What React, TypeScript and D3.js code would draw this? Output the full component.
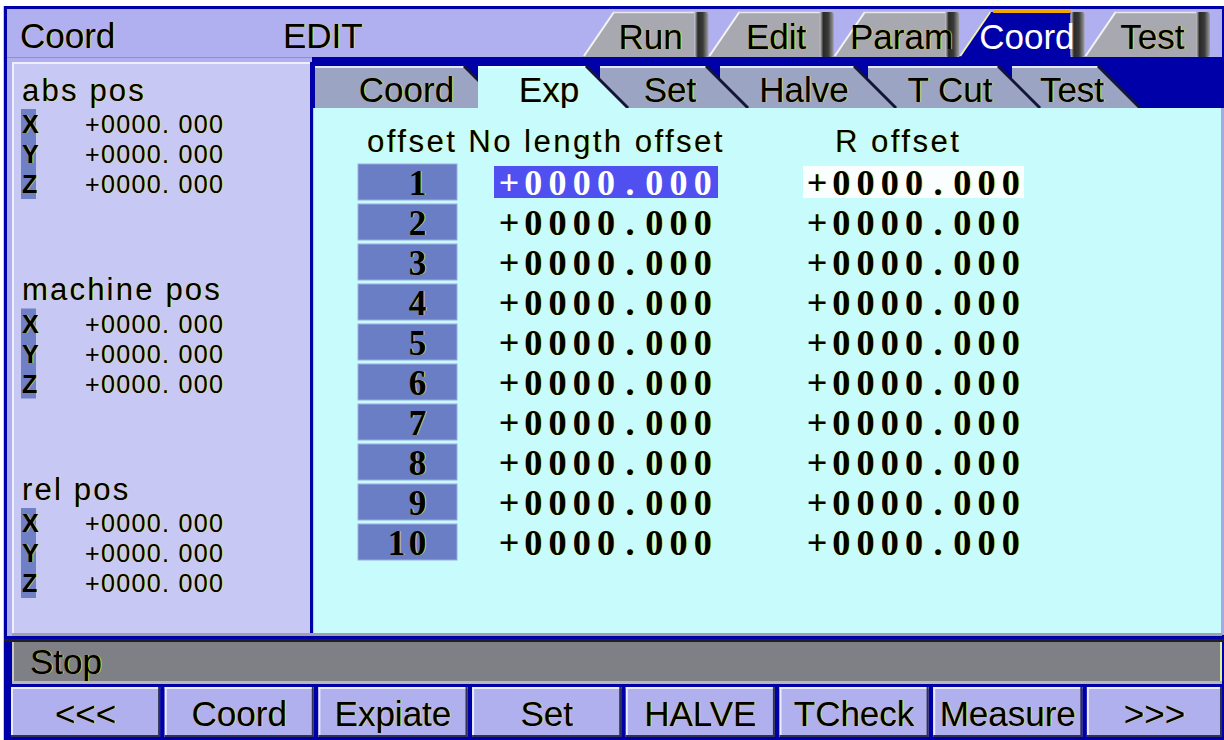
import React from "react";
import * as d3 from "d3";

// screen content
const screenTitle = "Coord";
const modeText = "EDIT";
const topTabs = ["Run", "Edit", "Param", "Coord", "Test"];
const activeTopTab = "Coord";
const subTabs = ["Coord", "Exp", "Set", "Halve", "T Cut", "Test"];
const activeSubTab = "Exp";
const posGroups = ["abs pos", "machine pos", "rel pos"];
const axes = ["X", "Y", "Z"];
const absPos = [0, 0, 0];
const machinePos = [0, 0, 0];
const relPos = [0, 0, 0];
const columnHeaders = ["offset No length offset", "R offset"];
const offsetNos = [1, 2, 3, 4, 5, 6, 7, 8, 9, 10];
const lengthOffsets = [0, 0, 0, 0, 0, 0, 0, 0, 0, 0];
const rOffsets = [0, 0, 0, 0, 0, 0, 0, 0, 0, 0];
const selectedRow = 1;
const statusText = "Stop";
const softKeys = ["<<<", "Coord", "Expiate", "Set", "HALVE", "TCheck", "Measure", ">>>"];

// layout
const W = 1224;
const H = 740;
const SANS = "'Liberation Sans', Arial, sans-serif";
const SERIF = "'Liberation Serif', 'Times New Roman', serif";
const FRINGE = "#E4E400";
const subTabEdges = [315, 478, 600, 720, 868, 1012, 1112];

const groupValues = [absPos, machinePos, relPos];

function fmtLeft(v: number) {
  const sign = v < 0 ? "-" : "+";
  const a = Math.abs(v);
  const i = Math.floor(a);
  const d = Math.round((a - i) * 1000);
  return `${sign}${String(i).padStart(4, "0")}. ${String(d).padStart(3, "0")}`;
}

function fmtCell(v: number) {
  const sign = v < 0 ? "-" : "+";
  return sign + Math.abs(v).toFixed(3).padStart(8, "0");
}

type TProps = {
  x: number;
  y: number;
  text: string;
  size?: number;
  fill?: string;
  anchor?: "start" | "middle" | "end";
  fringe?: boolean;
  weight?: string;
  family?: string;
  spacing?: number;
  len?: number;
};

// text with the thin yellow right-hand fringe the LCD shows
function T({ x, y, text, size = 35, fill = "#000", anchor = "start", fringe = true, weight = "normal", family = SANS, spacing = 0, len }: TProps) {
  const common = {
    y,
    fontSize: size,
    fontFamily: family,
    fontWeight: weight,
    textAnchor: anchor,
    dominantBaseline: "central" as const,
    letterSpacing: spacing,
    textLength: len,
    lengthAdjust: len ? "spacing" : undefined,
  };
  return (
    <g>
      {fringe && (
        <text x={x + 1} {...common} fill={FRINGE} opacity={0.75}>
          {text}
        </text>
      )}
      <text x={x} {...common} fill={fill}>
        {text}
      </text>
    </g>
  );
}

// fixed-cell text, like the controller's bitmap font
function Cells({ x, y, text, step, size, fill = "#000", fringe = true }: { x: number; y: number; text: string; step: number; size: number; fill?: string; fringe?: boolean }) {
  return (
    <g>
      {text.split("").map((c, i) => (
        <T key={i} x={x + i * step + step / 2} y={y} text={c} size={size} anchor="middle" weight="bold" family={SERIF} fill={fill} fringe={fringe} />
      ))}
    </g>
  );
}

export default function App() {
  const topX = d3.scaleBand<string>().domain(topTabs).range([583, 1210]);
  const groupY = d3.scalePoint<string>().domain(posGroups).range([90, 489]);
  const axisY = d3.scalePoint<string>().domain(axes).range([0, 60]);
  const rowY = d3
    .scaleBand<number>()
    .domain(offsetNos)
    .range([162, 562])
    .paddingInner(0.1)
    .paddingOuter(0.05);
  const keyX = d3.scaleBand<string>().domain(softKeys).range([11, 1236]).paddingInner(0.03);

  const bump = 14;
  const slant = 30;
  const subSlant = 42;

  const subOrder = subTabs
    .map((t, i) => ({ t, i }))
    .filter((d) => d.t !== activeSubTab)
    .reverse()
    .concat(subTabs.map((t, i) => ({ t, i })).filter((d) => d.t === activeSubTab));

  const col1 = 497;
  const col2 = 805;
  const cellStep = 24.2;

  return (
    <svg width={W} height={H} style={{ position: "absolute", left: 0, top: 0, background: "#fff" }}>
      <defs>
        <linearGradient id="bump" x1="0" x2="1" y1="0" y2="0">
          <stop offset="0" stopColor="#C8C8C8" />
          <stop offset="0.25" stopColor="#2A2A2A" />
          <stop offset="0.6" stopColor="#3A3A3A" />
          <stop offset="1" stopColor="#A0A0A0" />
        </linearGradient>
      </defs>

      {/* frame */}
      <rect x={0} y={0} width={W} height={H} fill="#fff" />
      <rect x={4} y={6} width={W - 4} height={H - 6} fill="#0000A8" />
      <line x1={3.5} y1={6} x2={3.5} y2={H} stroke={FRINGE} strokeWidth={1} />

      {/* title bar */}
      <rect x={7} y={9} width={W - 9} height={48} fill="#B0B0F0" />
      <rect x={7} y={57} width={305} height={579} fill="#B0B0F0" />
      <line x1={7} y1={57.5} x2={312} y2={57.5} stroke="#9090C8" strokeWidth={1} />
      <T x={20} y={35} text={screenTitle} />
      <T x={283} y={35} text={modeText} />

      {/* top tabs */}
      {topTabs.map((t) => {
        const s = topX(t)!;
        const w = topX.bandwidth();
        const active = t === activeTopTab;
        const e = s + w - bump;
        return (
          <g key={t}>
            <polygon points={`${s},57 ${s + slant},12 ${e},12 ${e},57`} fill={active ? "#0000A8" : "#A8A8B0"} />
            <line x1={s + 1} y1={56} x2={s + slant + 1} y2={12} stroke={active ? "#F0F0B0" : "#F4F4F4"} strokeWidth={2} />
            {active ? (
              <rect x={s + slant + 4} y={10} width={e - s - slant - 4} height={3} fill="#F0A800" />
            ) : (
              <line x1={s + slant} y1={12.5} x2={e} y2={12.5} stroke="#E8E8EC" strokeWidth={1.5} />
            )}
            <rect x={e} y={12} width={bump} height={45} rx={3} fill="url(#bump)" />
            <T x={s + (w - bump) / 2 + 12} y={36} text={t} anchor="middle" fill={active ? "#fff" : "#000"} fringe={!active} />
          </g>
        );
      })}

      {/* sub tab strip */}
      <rect x={312} y={57} width={910} height={51} fill="#0000A8" />
      {subOrder.map(({ t, i }) => {
        const x0 = subTabEdges[i];
        const x1 = subTabEdges[i + 1] - 14;
        const active = t === activeSubTab;
        return (
          <g key={t + i}>
            <polygon points={`${x0},66 ${x1},66 ${x1 + subSlant},108 ${x0},108`} fill={active ? "#C8FCFC" : "#9CA4C4"} />
            <line x1={x0} y1={67} x2={x1} y2={67} stroke={active ? "#E8FFFF" : "#E4E8F4"} strokeWidth={2} />
            <line x1={x1} y1={66} x2={x1 + subSlant} y2={108} stroke="#14143A" strokeWidth={3} />
            <T x={(x0 + x1) / 2 + 17} y={89} text={t} anchor="middle" />
          </g>
        );
      })}

      {/* left panel */}
      <rect x={12} y={62} width={298} height={573} fill="#C8C8F4" />
      <line x1={12} y1={63} x2={310} y2={63} stroke="#EEEEFF" strokeWidth={2} />
      <line x1={13} y1={62} x2={13} y2={635} stroke="#EEEEFF" strokeWidth={2} />
      <rect x={310} y={62} width={3} height={574} fill="#0000A8" />

      {posGroups.map((g, gi) => {
        const gy = groupY(g)!;
        return (
          <g key={g}>
            <T x={22} y={gy} text={g} size={31} spacing={2.2} />
            <rect x={21} y={gy + 19} width={15} height={90} fill="#7080C4" />
            {axes.map((a, ai) => {
              const y = gy + 34 + axisY(a)!;
              return (
                <g key={a}>
                  <T x={22} y={y} text={a} size={25} len={12} weight="bold" />
                  <T x={85} y={y} text={fmtLeft(groupValues[gi][ai])} size={25} len={138} />
                </g>
              );
            })}
          </g>
        );
      })}

      {/* right panel */}
      <rect x={314} y={108} width={908} height={527} fill="#C8FCFC" />
      <line x1={313.5} y1={108} x2={313.5} y2={635} stroke={FRINGE} strokeWidth={1} />
      <rect x={1221} y={108} width={3} height={527} fill="#A8A8E8" />

      <T x={367} y={141} text={columnHeaders[0]} size={31} spacing={2.5} />
      <T x={835} y={141} text={columnHeaders[1]} size={31} spacing={2.5} />

      {offsetNos.map((n, i) => {
        const y0 = rowY(n)!;
        const bw = rowY.bandwidth();
        const cy = y0 + bw / 2;
        const label = String(n);
        const sel = n === selectedRow;
        return (
          <g key={n}>
            <rect x={358} y={y0} width={99} height={bw} fill="#6A7EC6" stroke="#9AAAE0" strokeWidth={1} />
            {label.split("").map((c, ci) => (
              <T key={ci} x={428 - (label.length - 1 - ci) * 21 - 10.5} y={cy + 1} text={c} size={35} anchor="middle" weight="bold" family={SERIF} />
            ))}
            {sel && <rect x={494} y={y0 + 2} width={224} height={bw - 4} fill="#5050F0" />}
            {sel && <rect x={803} y={y0 + 2} width={221} height={bw - 4} fill="#FAFEFF" />}
            <Cells x={col1} y={cy + 1} text={fmtCell(lengthOffsets[i])} step={cellStep} size={36} fill={sel ? "#fff" : "#000"} fringe={!sel} />
            <Cells x={col2} y={cy + 1} text={fmtCell(rOffsets[i])} step={cellStep} size={36} />
          </g>
        );
      })}

      {/* panel bottom edge */}
      <rect x={12} y={633} width={1210} height={3} fill="#A0A0A8" />
      <rect x={4} y={636} width={W - 4} height={3} fill="#0000A8" />
      <rect x={4} y={639} width={W - 4} height={3} fill="#202020" />

      {/* status bar */}
      <rect x={12} y={642} width={1210} height={39} fill="#7F7F86" />
      <line x1={13} y1={642} x2={13} y2={681} stroke="#C8C8C8" strokeWidth={2} />
      <line x1={1221} y1={642} x2={1221} y2={681} stroke="#D8F0A0" strokeWidth={2} />
      <rect x={12} y={681} width={1210} height={3} fill="#B8B8B8" />
      <T x={30} y={661} text={statusText} />

      {/* soft keys */}
      {softKeys.map((k) => {
        const s = keyX(k)!;
        const e = Math.min(s + keyX.bandwidth(), 1222);
        return (
          <g key={k}>
            <rect x={s} y={687} width={e - s} height={50} fill="#B0B0EE" />
            <line x1={s} y1={688} x2={e} y2={688} stroke="#ECECFF" strokeWidth={2} />
            <line x1={s + 1} y1={687} x2={s + 1} y2={737} stroke="#ECECFF" strokeWidth={2} />
            <line x1={s} y1={736} x2={e} y2={736} stroke="#303050" strokeWidth={2} />
            <line x1={e - 1} y1={687} x2={e - 1} y2={737} stroke="#303050" strokeWidth={2} />
            <T x={(s + e) / 2} y={713} text={k} anchor="middle" />
          </g>
        );
      })}
    </svg>
  );
}
